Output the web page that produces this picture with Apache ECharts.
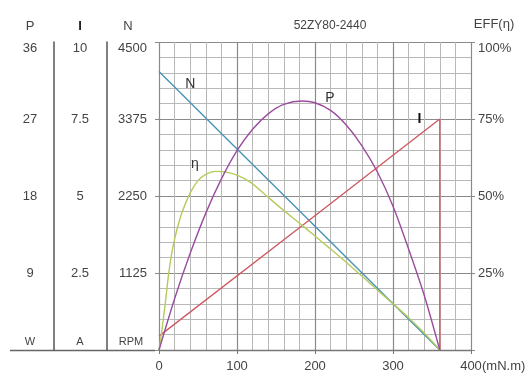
<!DOCTYPE html>
<html>
<head>
<meta charset="utf-8">
<script src="https://cdn.jsdelivr.net/npm/echarts@6/dist/echarts.min.js"></script>
<style>
html,body{margin:0;padding:0;background:#fff;}
#chart{width:531px;height:376px;}
</style>
</head>
<body>
<div id="chart"></div>
<script>
// ---- data ----
var chartTitle = '52ZY80-2440';
var torqueTicks = [0, 100, 200, 300, 400];           // mN.m
var speedTicks = [0, 1125, 2250, 3375, 4500];         // RPM
var powerTicks = [0, 9, 18, 27, 36];                  // W
var currentTicks = [0, 2.5, 5, 7.5, 10];              // A
var effTicks = [0, 25, 50, 75, 100];                  // %

// N (RPM) vs torque
var speedData = [[0, 4070], [90, 3050], [180, 2035], [270, 1015], [360, 0]];
// I (A) vs torque
var currentData = [[0, 0.45], [180, 3.97], [360, 7.5], [360, 0]];
// P (W) vs torque
var powerData = [[0, 0], [20, 6.0], [40, 11.3], [60, 16.0], [80, 20.0], [100, 23.3], [120, 25.8],
  [140, 27.6], [160, 28.7], [183, 29.1], [200, 28.9], [220, 28.0], [240, 26.3], [260, 23.9],
  [280, 20.8], [300, 16.8], [320, 11.8], [340, 6.4], [360, 0]];
// EFF (%) vs torque
var effData = [[0, 0], [2, 3], [5, 9], [8, 15], [12, 24], [16, 31], [20, 36], [25, 41], [30, 45],
  [40, 51], [50, 55], [60, 57], [72, 58], [85, 57.8], [100, 56.8], [117, 54.5], [138, 50],
  [159, 45.5], [181, 41], [200, 37], [219, 33], [240, 28.5], [260, 24], [280, 19.5], [300, 15],
  [320, 10.5], [340, 5.5], [360, 0]];

// curve name labels (data space)
var labelN = [40, 3890];
var labelP = [219, 29.4];
var labelEta = [46, 60.5];
var labelI = [334, 7.5];

var FONT = '"Liberation Sans", Arial, sans-serif';
var TXT = '#444';
var colN = '#4a93b5', colP = '#9a4c9e', colEta = '#b3cc5c', colI = '#cf5a62';

function hideMin(list, fmt) {
  return function (v) {
    if (v === list[0]) return '';
    return fmt ? fmt(v) : String(v);
  };
}

function nameMark(coord, text, color, bold) {
  return {
    symbol: 'circle', symbolSize: 1, silent: true,
    itemStyle: { color: 'rgba(0,0,0,0)' },
    label: { show: true, position: 'inside', formatter: text, color: color || '#333',
      fontSize: 14, fontFamily: FONT, fontWeight: bold ? 'bold' : 'normal' },
    data: [{ coord: coord }]
  };
}

function txt(x, y, s, font, fill) {
  return { type: 'text', x: x, y: y, style: { text: s, font: font, fill: fill || TXT,
    textAlign: 'center', textVerticalAlign: 'middle', align: 'center', verticalAlign: 'middle' } };
}

var chart = echarts.init(document.getElementById('chart'), null, { renderer: 'canvas' });

var sideAxisBase = {
  type: 'value', position: 'left',
  splitLine: { show: false }, axisTick: { show: false },
  axisLabel: { align: 'center', fontSize: 13, color: TXT, fontFamily: FONT, verticalAlignMaxLabel: 'top' }
};

var option = {
  animation: false,
  backgroundColor: '#fff',
  grid: { left: 159, right: 60, top: 42, bottom: 26, containLabel: false, outerBoundsMode: 'none' },
  graphic: [
    txt(30, 26, 'P', '13px ' + FONT),
    txt(80, 26, 'I', 'bold 13px ' + FONT, '#222'),
    txt(128, 26, 'N', '13px ' + FONT),
    txt(330, 26, chartTitle, '12px ' + FONT),
    txt(494, 24, 'EFF(η)', '13px ' + FONT),
    txt(30, 342, 'W', '11px ' + FONT),
    txt(80, 342, 'A', '11px ' + FONT),
    txt(131, 342, 'RPM', '11px ' + FONT),
    { type: 'line', shape: { x1: 10, y1: 350.5, x2: 155, y2: 350.5 }, style: { stroke: '#666', lineWidth: 1.3 } }
  ],
  xAxis: {
    type: 'value', min: torqueTicks[0], max: torqueTicks[torqueTicks.length - 1], interval: 100,
    name: '(mN.m)', nameLocation: 'end', nameGap: 11, nameMoveOverlap: false,
    nameTextStyle: { fontSize: 13, color: TXT, fontFamily: FONT, align: 'left', verticalAlign: 'top', padding: [10, 0, 0, 0] },
    axisLine: { show: true, lineStyle: { color: '#777', width: 1.3 } },
    axisTick: { show: true, length: 4, lineStyle: { color: '#777' } },
    minorTick: { show: false, splitNumber: 5 },
    axisLabel: { fontSize: 13, color: TXT, fontFamily: FONT, margin: 10 },
    splitLine: { show: true, lineStyle: { color: '#8a8a8a', width: 1.2 } },
    minorSplitLine: { show: true, lineStyle: { color: '#b8b8b8', width: 1 } }
  },
  yAxis: [
    { // N
      type: 'value', position: 'left', min: speedTicks[0], max: speedTicks[4], interval: 1125,
      axisLine: { show: false },
      axisTick: { show: true, length: 4, inside: false, lineStyle: { color: '#888' } },
      minorTick: { show: false, splitNumber: 5 },
      axisLabel: { fontSize: 13, color: TXT, fontFamily: FONT, margin: 12, formatter: hideMin(speedTicks), verticalAlignMaxLabel: 'top' },
      splitLine: { show: true, lineStyle: { color: '#8a8a8a', width: 1.2 } },
      minorSplitLine: { show: true, lineStyle: { color: '#b8b8b8', width: 1 } }
    },
    Object.assign({}, sideAxisBase, { // P
      min: powerTicks[0], max: powerTicks[4], interval: 9, offset: 105,
      axisLine: { show: true, lineStyle: { color: '#555', width: 1.5 } },
      axisLabel: Object.assign({}, sideAxisBase.axisLabel, { margin: 24, formatter: hideMin(powerTicks) })
    }),
    Object.assign({}, sideAxisBase, { // I
      min: currentTicks[0], max: currentTicks[4], interval: 2.5, offset: 52,
      axisLine: { show: true, lineStyle: { color: '#555', width: 1.5 } },
      axisLabel: Object.assign({}, sideAxisBase.axisLabel, { margin: 27, formatter: hideMin(currentTicks) })
    }),
    { // EFF
      type: 'value', position: 'right', min: effTicks[0], max: effTicks[4], interval: 25,
      axisLine: { show: false },
      axisTick: { show: true, length: 4, lineStyle: { color: '#888' } },
      splitLine: { show: false },
      axisLabel: { fontSize: 13, color: TXT, fontFamily: FONT, margin: 7, verticalAlignMaxLabel: 'top',
        formatter: hideMin(effTicks, function (v) { return v + '%'; }) }
    }
  ],
  series: [
    { name: 'N', type: 'line', yAxisIndex: 0, data: speedData, showSymbol: false, symbol: 'none',
      lineStyle: { color: colN, width: 1.4 }, itemStyle: { color: colN },
      markPoint: nameMark(labelN, 'N', '#333') },
    { name: 'I', type: 'line', yAxisIndex: 2, data: currentData, showSymbol: false, symbol: 'none',
      lineStyle: { color: colI, width: 1.4 }, itemStyle: { color: colI },
      markPoint: nameMark(labelI, 'I', '#111', true) },
    { name: 'η', type: 'line', yAxisIndex: 3, data: effData, showSymbol: false, symbol: 'none', smooth: 0.3,
      lineStyle: { color: colEta, width: 1.4 }, itemStyle: { color: colEta },
      markPoint: nameMark(labelEta, 'η', '#333') },
    { name: 'P', type: 'line', yAxisIndex: 1, data: powerData, showSymbol: false, symbol: 'none', smooth: 0.3,
      lineStyle: { color: colP, width: 1.4 }, itemStyle: { color: colP },
      markPoint: nameMark(labelP, 'P', '#333') }
  ]
};
chart.setOption(option);
</script>
</body>
</html>
